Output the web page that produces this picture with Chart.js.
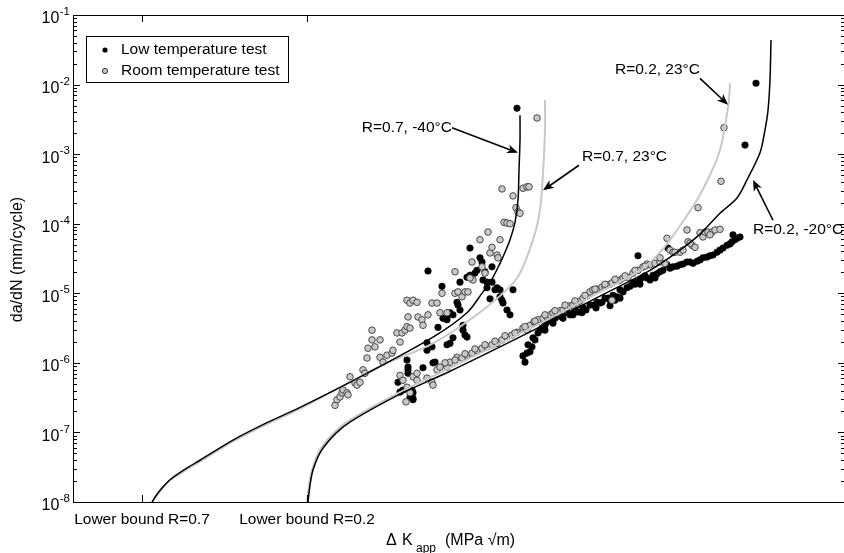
<!DOCTYPE html>
<html>
<head>
<meta charset="utf-8">
<script src="https://cdn.jsdelivr.net/npm/chart.js@4.4.1/dist/chart.umd.min.js"></script>
<style>
  html, body { margin: 0; padding: 0; background: #fff; overflow: hidden; }
  #wrap { width: 844px; height: 553px; overflow: hidden; }
</style>
</head>
<body>
<div id="wrap"><canvas id="fcg" width="850" height="553"></canvas></div>
<script>
// ── data ─────────────────────────────────────────────────
// ΔK in arbitrary units (the plot has no numeric x ticks), da/dN kept as log10(mm/cycle)
const lowTempX = [
  32.5, 32.7, 33.0, 33.4, 33.5, 33.5, 33.5, 33.7, 33.9, 34.0, 34.0, 34.0,
  35.0, 35.4, 35.4, 35.9, 36.0, 36.2, 35.5, 36.5, 36.9, 37.0, 37.4, 37.4, 37.4,
  37.7, 37.7, 38.0, 38.0, 38.4, 38.5, 38.7, 38.7, 39.0, 39.0, 39.2, 39.4, 39.4,
  39.7, 39.7, 40.2, 40.4, 40.7, 40.9, 41.0, 41.2, 41.4, 41.4, 41.7, 41.9, 41.9,
  42.2, 42.4, 42.7, 42.7, 42.9, 43.0, 43.4, 43.7, 44.0, 44.4,
  45.2, 45.0, 45.4, 45.7, 45.9, 46.2, 46.5, 46.9, 47.2, 47.4, 47.9, 48.0, 48.5, 49.0,
  49.4, 50.0, 50.2, 50.9, 51.0, 51.7, 52.4, 52.7, 53.2, 53.7, 54.0, 54.4, 54.7, 55.4,
  56.0, 56.4, 56.5, 56.7, 57.0, 57.4, 57.7, 58.0, 58.2, 58.7, 59.4, 59.5, 60.0, 60.7,
  61.4, 62.0, 62.7, 63.4, 64.0, 64.7, 65.4, 65.9, 66.4, 66.7, 66.0, 67.2, 68.3,
  45.5, 46.0, 46.7, 47.2, 47.7, 48.2, 48.7, 49.2, 49.7, 50.5, 51.3, 52.1, 52.9, 53.5,
  54.2, 55.0, 55.7, 56.2, 57.2, 58.4, 59.0, 59.7, 60.4, 61.0, 61.7, 62.4, 63.0, 63.7,
  64.4, 65.0, 65.7, 66.2, 53.7, 54.7, 56.7, 52.3
];
const lowTempLog = [
  -6.28, -6.42, -6.39, -5.96, -6.06, -6.10, -6.15, -6.49, -6.39, -6.43, -6.51, -6.53,
  -6.07, -5.71, -5.82, -5.77, -6.00, -5.99, -4.68, -5.49, -4.90, -5.36, -5.34, -5.38, -5.74,
  -5.28, -5.72, -5.31, -5.64, -5.13, -5.17, -5.24, -4.84, -5.46, -5.53, -5.60, -5.63, -4.77,
  -4.35, -4.74, -4.71, -4.67, -4.49, -4.55, -4.81, -4.69, -4.84, -4.92, -5.08, -4.62, -4.84,
  -4.95, -4.92, -5.05, -4.95, -5.10, -5.14, -5.24, -5.31, -4.95, -2.34,
  -5.99, -5.90, -5.86, -5.84, -5.77, -5.67, -5.57, -5.50, -5.53, -5.41, -5.34, -5.43, -5.28, -5.36,
  -5.27, -5.31, -5.24, -5.28, -5.21, -5.17, -5.13, -5.14, -5.07, -5.10, -5.03, -5.05, -4.95, -4.92,
  -4.85, -4.84, -4.46, -4.81, -4.77, -4.78, -4.81, -4.74, -4.78, -4.69, -4.59, -4.35, -4.62, -4.59,
  -4.55, -4.57, -4.52, -4.48, -4.45, -4.38, -4.31, -4.26, -4.21, -4.19, -4.16, -2.87, -1.98,
  -5.74, -5.64, -5.53, -5.46, -5.38, -5.36, -5.33, -5.28, -5.31, -5.27, -5.24, -5.17, -5.13, -5.07,
  -5.10, -4.98, -4.90, -4.87, -4.75, -4.72, -4.67, -4.64, -4.61, -4.58, -4.55, -4.54, -4.49, -4.46,
  -4.41, -4.35, -4.29, -4.23, -5.18, -5.07, -4.87, -5.21
];

const roomTempX = [
  26.2, 26.4, 26.7, 26.9, 27.0, 27.4, 27.5, 27.7, 28.2, 28.4, 28.7, 29.0, 29.2, 29.4, 29.5,
  29.9, 29.9, 30.2, 30.7, 30.7, 31.0, 31.4, 31.9, 32.0, 32.4, 32.7, 32.9, 33.2, 33.4, 33.4,
  33.7, 33.7, 33.5, 34.0, 34.4, 34.5, 34.9, 35.0, 35.5, 35.9, 36.4, 36.7, 37.4, 36.9, 38.2,
  38.2, 38.5, 38.9, 39.2, 39.5, 40.0, 39.9, 39.7, 40.7, 40.9, 41.2, 41.5, 41.7, 41.9, 42.4,
  42.5, 42.7, 42.9, 43.1, 43.4, 43.7, 44.0, 44.3, 44.5, 44.7, 45.0, 45.4, 45.6, 46.4,
  32.7, 33.0, 33.4, 33.7, 33.3, 34.0, 34.4, 34.4, 35.4, 35.9, 36.0, 36.4, 36.7, 37.4, 37.7,
  38.4, 38.9, 39.4, 39.9, 40.4, 40.9, 41.4, 41.9, 42.4, 42.9, 43.4, 43.9, 44.4, 45.0, 45.4,
  45.7, 46.1, 46.5, 47.0, 47.4, 47.7, 48.0, 48.4, 48.7, 49.0, 49.4, 49.7, 50.0, 50.4, 50.7,
  51.0, 51.4, 51.7, 52.0, 52.4, 52.9, 53.2, 53.4, 53.7, 53.9, 53.9, 54.3, 54.7, 55.0, 55.5,
  56.0, 56.5, 57.0, 57.4, 57.7, 58.2, 58.7, 59.2, 59.4, 59.7, 60.0, 60.7, 61.0, 61.4, 61.5,
  61.9, 62.2, 62.5, 62.7, 63.0, 63.2, 63.5, 63.9, 64.2, 64.7, 64.8, 65.1,
  37.2, 38.2, 39.2, 40.2, 41.2, 42.2, 43.2, 44.2, 45.2, 46.2, 47.2, 48.2, 49.2, 50.2, 51.2,
  52.2, 53.2, 54.2, 55.2, 56.2, 57.2, 58.7, 60.2, 61.7, 63.7
];
const roomTempLog = [
  -6.61, -6.53, -6.49, -6.43, -6.39, -6.43, -6.46, -6.20, -6.29, -6.32, -6.28, -6.10, -6.15, -5.93, -5.79,
  -5.67, -5.53, -5.77, -5.67, -5.92, -5.99, -5.89, -5.86, -5.82, -5.57, -5.70, -5.57, -5.53, -5.48, -5.10,
  -5.14, -5.50, -5.34, -5.10, -5.13, -5.34, -5.38, -5.46, -5.31, -5.14, -5.14, -5.28, -5.28, -5.00, -4.69,
  -5.00, -4.98, -5.05, -4.98, -4.98, -4.81, -4.55, -4.78, -4.23, -4.62, -4.71, -4.12, -4.42, -4.34, -4.45,
  -4.49, -4.23, -3.50, -3.98, -3.99, -4.00, -3.60, -3.77, -3.83, -3.85, -3.49, -3.47, -3.47, -2.48,
  -6.18, -6.25, -6.35, -6.43, -6.56, -6.20, -6.15, -6.25, -6.22, -6.28, -6.32, -6.10, -6.06, -6.06, -5.99,
  -5.92, -5.93, -5.89, -5.86, -5.82, -5.79, -5.77, -5.74, -5.72, -5.67, -5.63, -5.60, -5.56, -5.50, -5.53,
  -5.46, -5.41, -5.38, -5.36, -5.34, -5.31, -5.28, -5.28, -5.25, -5.24, -5.20, -5.18, -5.17, -5.14, -5.11,
  -5.07, -5.04, -4.98, -4.95, -4.94, -4.91, -4.90, -4.88, -4.87, -4.85, -5.10, -4.82, -4.81, -4.78, -4.77,
  -4.71, -4.67, -4.62, -4.58, -4.59, -4.57, -4.55, -4.57, -4.21, -4.38, -4.41, -4.41, -4.38, -4.09, -4.26,
  -4.31, -4.34, -3.77, -4.13, -4.19, -4.12, -4.12, -4.12, -4.09, -4.08, -3.39, -2.62,
  -6.00, -5.96, -5.87, -5.80, -5.74, -5.69, -5.61, -5.57, -5.48, -5.40, -5.31, -5.25, -5.17, -5.11, -5.03,
  -4.94, -4.87, -4.80, -4.75, -4.67, -4.61, -4.49, -4.41, -4.28, -4.16
];

// fitted curves
const fitR07ColdX   = [7.9, 8.3, 8.9, 9.7, 11.2, 12.7, 16.0, 19.4, 22.7, 29.4, 36.0, 39.4, 41.0, 41.7, 42.7, 43.2, 43.7, 44.2, 44.5, 44.6, 44.7, 44.7];
const fitR07ColdLog = [-8.00, -7.91, -7.80, -7.68, -7.53, -7.40, -7.11, -6.86, -6.64, -6.15, -5.63, -5.28, -4.98, -4.85, -4.57, -4.41, -4.23, -3.98, -3.66, -3.23, -2.80, -2.44];
const fitR07RoomX   = [7.9, 8.3, 8.9, 9.7, 11.2, 12.7, 16.0, 19.4, 22.7, 31.0, 36.0, 41.0, 44.4, 46.0, 46.7, 47.0, 47.2, 47.2];
const fitR07RoomLog = [-8.00, -7.92, -7.81, -7.69, -7.55, -7.42, -7.13, -6.88, -6.66, -6.03, -5.72, -5.24, -4.78, -4.23, -3.80, -3.27, -2.65, -2.22];
const fitR02RoomX   = [23.4, 23.6, 23.9, 24.7, 26.2, 27.7, 32.7, 37.7, 42.7, 47.7, 52.7, 56.7, 58.9, 60.7, 62.4, 63.7, 64.7, 65.3, 65.6, 65.7];
const fitR02RoomLog = [-8.00, -7.76, -7.54, -7.25, -6.99, -6.82, -6.42, -6.07, -5.72, -5.36, -4.98, -4.67, -4.38, -4.03, -3.66, -3.30, -2.94, -2.51, -2.22, -1.98];
const fitR02ColdX   = [23.5, 23.7, 24.0, 24.8, 26.3, 27.8, 32.7, 37.7, 42.7, 47.7, 52.7, 57.7, 60.7, 62.7, 64.7, 66.4, 67.4, 68.7, 69.2, 69.5, 69.7, 69.8];
const fitR02ColdLog = [-8.00, -7.76, -7.54, -7.27, -7.01, -6.84, -6.45, -6.12, -5.77, -5.41, -5.04, -4.67, -4.38, -4.15, -3.85, -3.63, -3.37, -2.98, -2.65, -2.37, -1.93, -1.36];

const yTickExp    = [-1, -2, -3, -4, -5, -6, -7, -8];
const xTickVals   = [6.9, 23.4];
const xTickLabels = ["Lower bound R=0.7", "Lower bound R=0.2"];

// ── annotations (data coords) ────────────────────────────
const notes = [
  { text: "R=0.7, -40°C", align: "right", at: [37.9, -2.62], tail: [37.9, -2.62], tip: [44.5, -2.98] },
  { text: "R=0.7, 23°C",  align: "left",  at: [50.9, -3.04], tail: [50.6, -3.16], tip: [47.0, -3.52] },
  { text: "R=0.2, 23°C",  align: "right", at: [62.7, -1.79], tail: [62.7, -1.91], tip: [65.5, -2.29] },
  { text: "R=0.2, -20°C", align: "left",  at: [68.0, -4.09], tail: [70.0, -3.95], tip: [68.0, -3.37] },
];

const FONT = '"Liberation Sans", Arial, Helvetica, sans-serif';
const GRAY_FILL = "#c9c9c9";
const GRAY_LINE = "#c8c8c8";

const toPts = (xs, logs) => xs.map((x, i) => ({ x, y: Math.pow(10, logs[i]) }));

function arrow(ctx, x0, y0, x1, y1) {
  const ang = Math.atan2(y1 - y0, x1 - x0);
  const L = 11, W = 4.5, N = 8;
  const bx = x1 - Math.cos(ang) * N, by = y1 - Math.sin(ang) * N;
  ctx.beginPath();
  ctx.moveTo(x0, y0);
  ctx.lineTo(bx, by);
  ctx.lineWidth = 1.6;
  ctx.stroke();
  const px = -Math.sin(ang), py = Math.cos(ang);
  const hx = x1 - Math.cos(ang) * L, hy = y1 - Math.sin(ang) * L;
  ctx.beginPath();
  ctx.moveTo(x1, y1);
  ctx.lineTo(hx + px * W, hy + py * W);
  ctx.lineTo(bx, by);
  ctx.lineTo(hx - px * W, hy - py * W);
  ctx.closePath();
  ctx.fill();
}

// ── frame, ticks, labels, legend, notes ─────────────────
const framePlugin = {
  id: "frame",
  afterDraw(chart) {
    const { ctx, chartArea: a, scales: { x, y } } = chart;
    ctx.save();
    ctx.strokeStyle = "#000";
    ctx.fillStyle = "#000";
    ctx.lineWidth = 1;
    ctx.strokeRect(Math.round(a.left) + 0.5, Math.round(a.top) + 0.5,
                   Math.round(a.right - a.left), Math.round(a.bottom - a.top));

    const seg = (x0, y0, x1, y1) => { ctx.beginPath(); ctx.moveTo(x0, y0); ctx.lineTo(x1, y1); ctx.stroke(); };

    // y ticks, major + minor, both sides
    for (let e = -8; e <= -1; e++) {
      for (let m = 1; m <= 9; m++) {
        if (e === -1 && m > 1) break;
        const py = Math.round(y.getPixelForValue(m * Math.pow(10, e))) + 0.5;
        const len = m === 1 ? 7 : 4;
        seg(a.left, py, a.left + len, py);
        seg(a.right - len, py, a.right, py);
      }
    }
    // x ticks top and bottom
    xTickVals.forEach((v) => {
      const px = Math.round(x.getPixelForValue(v)) + 0.5;
      seg(px, a.bottom, px, a.bottom - 7);
      seg(px, a.top, px, a.top + 7);
    });

    // y tick labels 10^n
    ctx.textBaseline = "middle";
    yTickExp.forEach((e) => {
      const py = y.getPixelForValue(Math.pow(10, e));
      ctx.font = `11.5px ${FONT}`;
      ctx.textAlign = "right";
      const sup = String(e);
      const sw = ctx.measureText(sup).width;
      ctx.fillText(sup, a.left - 3, py - 3);
      ctx.font = `16px ${FONT}`;
      ctx.fillText("10", a.left - 3 - sw - 0.5, py + 4);
    });

    // x tick labels
    ctx.font = `15.5px ${FONT}`;
    ctx.textAlign = "center";
    xTickVals.forEach((v, i) => {
      ctx.fillText(xTickLabels[i], x.getPixelForValue(v), a.bottom + 18);
    });

    // x title: Δ K_app (MPa √m)
    ctx.textAlign = "left";
    ctx.font = `16px ${FONT}`;
    ctx.fillText("\u0394", 386, 541);
    ctx.fillText("K", 402, 541);
    ctx.font = `12px ${FONT}`;
    ctx.fillText("app", 416, 549);
    ctx.font = `16px ${FONT}`;
    ctx.fillText("(MPa \u221Am)", 445, 541);

    // y title
    ctx.save();
    ctx.translate(18, (a.top + a.bottom) / 2 + 1);
    ctx.rotate(-Math.PI / 2);
    ctx.textAlign = "center";
    ctx.font = `16px ${FONT}`;
    ctx.fillText("da/dN (mm/cycle)", 0, 0);
    ctx.restore();

    // legend
    const lx = a.left + 13, ly = a.top + 21;
    ctx.lineWidth = 1;
    ctx.strokeRect(lx + 0.5, ly + 0.5, 202, 46);
    ctx.beginPath(); ctx.arc(lx + 19, ly + 14, 2.6, 0, Math.PI * 2);
    ctx.fillStyle = "#000"; ctx.fill();
    ctx.beginPath(); ctx.arc(lx + 19, ly + 35, 2.6, 0, Math.PI * 2);
    ctx.fillStyle = GRAY_FILL; ctx.fill(); ctx.strokeStyle = "#333"; ctx.stroke();
    ctx.fillStyle = "#000"; ctx.strokeStyle = "#000";
    ctx.font = `15.5px ${FONT}`;
    ctx.textAlign = "left";
    ctx.fillText("Low temperature test", lx + 35, ly + 14);
    ctx.fillText("Room temperature test", lx + 35, ly + 35);

    // annotations
    const P = (d) => [x.getPixelForValue(d[0]), y.getPixelForValue(Math.pow(10, d[1]))];
    notes.forEach((n) => {
      const [ax, ay] = P(n.at);
      ctx.textAlign = n.align;
      ctx.fillText(n.text, ax, ay);
      const [t0, t1] = P(n.tail);
      const [p0, p1] = P(n.tip);
      arrow(ctx, t0, t1, p0, p1);
    });
    ctx.restore();
  },
};

const curve = (label, xs, logs, color, width) => ({
  label, data: toPts(xs, logs), showLine: true, pointRadius: 0,
  borderColor: color, borderWidth: width, tension: 0.3, fill: false, order: width > 1.7 ? 1 : 0,
});

new Chart(document.getElementById("fcg"), {
  type: "scatter",
  data: {
    datasets: [
      curve("R=0.7, -40°C", fitR07ColdX, fitR07ColdLog, "#000", 1.5),
      curve("R=0.2, -20°C", fitR02ColdX, fitR02ColdLog, "#000", 1.5),
      curve("R=0.7, 23°C", fitR07RoomX, fitR07RoomLog, GRAY_LINE, 2),
      curve("R=0.2, 23°C", fitR02RoomX, fitR02RoomLog, GRAY_LINE, 2),
      {
        label: "Room temperature test", data: toPts(roomTempX, roomTempLog),
        pointRadius: 3.3, pointBackgroundColor: GRAY_FILL, pointBorderColor: "#3a3a3a",
        pointBorderWidth: 0.9, order: 2,
      },
      {
        label: "Low temperature test", data: toPts(lowTempX, lowTempLog),
        pointRadius: 3.3, pointBackgroundColor: "#000", pointBorderColor: "#000",
        pointBorderWidth: 0.5, order: 3,
      },
    ],
  },
  options: {
    responsive: false,
    animation: false,
    events: [],
    layout: { autoPadding: false, padding: { left: 73, top: 15, right: 5, bottom: 51 } },
    plugins: { legend: { display: false }, tooltip: { enabled: false } },
    scales: {
      x: { type: "linear", min: 0, max: 77.2, display: false },
      y: { type: "logarithmic", min: 1e-8, max: 1e-1, display: false },
    },
  },
  plugins: [framePlugin],
});
</script>
</body>
</html>
